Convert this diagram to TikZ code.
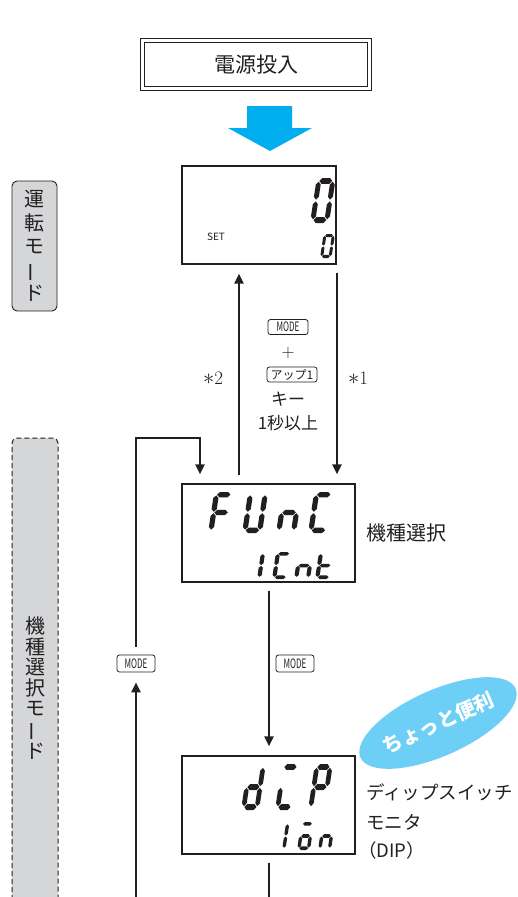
\documentclass[tikz,border=0pt]{standalone}
\usepackage{fontspec}
\usepackage{graphicx}
\newfontfamily\jp{Noto Sans CJK JP}
\usetikzlibrary{arrows.meta,shapes.geometric}
\definecolor{ink}{HTML}{231F20}
\definecolor{cyanA}{HTML}{00AEEF}
\definecolor{cyanB}{HTML}{6DCFF6}
\definecolor{labgray}{HTML}{D5D6D8}
\def\sgW{10}\def\sgH{20}\def\sgT{2.6}\def\sgG{0.35}
\newcommand\hsegm[1]{\fill ({\sgT/2+\sgG},{#1}) -- ({\sgT+\sgG},{#1+\sgT/2}) -- ({\sgW-\sgT-\sgG},{#1+\sgT/2}) -- ({\sgW-\sgT/2-\sgG},{#1}) -- ({\sgW-\sgT-\sgG},{#1-\sgT/2}) -- ({\sgT+\sgG},{#1-\sgT/2}) -- cycle;}
\newcommand\vsegm[3]{\fill ({#1},{#2+\sgG}) -- ({#1+\sgT/2},{#2+\sgG+\sgT/2}) -- ({#1+\sgT/2},{#3-\sgG-\sgT/2}) -- ({#1},{#3-\sgG}) -- ({#1-\sgT/2},{#3-\sgG-\sgT/2}) -- ({#1-\sgT/2},{#2+\sgG+\sgT/2}) -- cycle;}
\newcommand\SGa{\hsegm{\sgH-\sgT/2}}
\newcommand\SGg{\hsegm{\sgH/2}}
\newcommand\SGd{\hsegm{\sgT/2}}
\newcommand\SGf{\vsegm{\sgT/2}{\sgH/2}{\sgH-\sgT/2}}
\newcommand\SGe{\vsegm{\sgT/2}{\sgT/2}{\sgH/2}}
\newcommand\SGb{\vsegm{\sgW-\sgT/2}{\sgH/2}{\sgH-\sgT/2}}
\newcommand\SGc{\vsegm{\sgW-\sgT/2}{\sgT/2}{\sgH/2}}
\newcommand\segdigit[5]{%
  \begin{scope}[shift={(#1,#2)},xslant=0.15,xscale=#3,yscale=-#4]
    \foreach \sgname in {#5}{\csname SG\sgname\endcsname}
  \end{scope}}
\newcommand\bigast{\raisebox{-0.3pt}{\scalebox{1.3}{$\ast$}}}
\tikzset{
  disp/.style={draw=ink, line width=1.1pt, inner sep=0pt, fill=white},
  conn/.style={draw=ink, line width=2.3pt, -{Triangle[width=9pt,length=10pt]}},
  plainline/.style={draw=ink, line width=2.3pt},
  keycap/.style={draw=ink, line width=0.8pt, rounded corners=2.5pt, inner sep=0pt, minimum height=15pt, text=ink},
  jptext/.style={text=ink, inner sep=0pt},
}
\begin{document}
\begin{tikzpicture}[x=1pt,y=-1pt]
\useasboundingbox (0,0) rectangle (517,897);
% power-on box
\node[draw=ink, double=white, double distance=3.2pt, line width=0.9pt, minimum width=227, minimum height=48.5, inner sep=0pt, text=ink, font={\jp\fontsize{21}{21}\selectfont}] (pw) at (256,64.5) {電源投入};
% blue arrow
\fill[cyanA] (247,106) -- (292,106) -- (292,128) -- (312,128) -- (270,151) -- (228,128) -- (247,128) -- cycle;
% mode labels
\node[draw=ink, fill=labgray, rounded corners=5pt, line width=0.9pt, minimum width=45, minimum height=130, inner sep=0pt, align=center, text=ink, font={\jp\fontsize{20}{23.5}\selectfont}] (lab1) at (34.5,246) {運\\転\\モ\\\rotatebox[origin=c]{90}{ー}\\ド};
\fill[labgray, rounded corners=5pt] (12,900) -- (12,438) -- (58,438) -- (58,900) -- cycle;
\draw[ink, line width=1pt, dash pattern=on 5pt off 3pt, rounded corners=5pt] (12,900) -- (12,438) -- (58,438) -- (58,900);
\node[align=center, text=ink, inner sep=0pt, font={\jp\fontsize{20}{20.5}\selectfont}] (lab2) at (35,688) {機\\種\\選\\択\\モ\\\rotatebox[origin=c]{90}{ー}\\ド};
% displays
\node[disp, minimum width=154, minimum height=98] (d1) at (259,215) {};
\node[disp, minimum width=173, minimum height=98] (d2) at (268.5,533) {};
\node[disp, minimum width=173, minimum height=98] (d3) at (268.5,805) {};
\node[jptext, font={\jp\fontsize{10}{10}\selectfont}] (set) at (216,237) {SET};
\begin{scope}[ink]
\segdigit{310}{223}{1.9}{2.25}{a,b,c,d,e,f}
\segdigit{320}{258}{1.14}{1.2}{a,b,c,d,e,f}
\segdigit{208}{533}{2.0}{2.05}{a,e,f,g}
\segdigit{242}{533}{2.0}{2.05}{b,c,d,e,f}
\segdigit{276}{533}{2.0}{2.05}{c,e,g}
\segdigit{308}{533}{2.0}{2.05}{a,d,e,f}
\segdigit{257}{579}{1.6}{1.35}{e,f}
\segdigit{272}{579}{1.6}{1.35}{a,d,e,f}
\segdigit{294}{579}{1.6}{1.35}{c,e,g}
\segdigit{315}{579}{1.6}{1.35}{d,e,f,g}
\segdigit{241}{810}{1.8}{2.3}{b,c,d,e,g}
\segdigit{275}{810}{1.8}{2.3}{a,d,e}
\segdigit{308}{810}{1.8}{2.3}{a,b,e,f,g}
\segdigit{282}{850}{1.3}{1.4}{e,f}
\segdigit{297}{850}{1.3}{1.4}{a,c,d,e,g}
\segdigit{318}{850}{1.3}{1.4}{c,e,g}
\end{scope}
% key texts between display 1 and 2
\node[keycap, minimum width=40, font={\jp\fontsize{13}{13}\selectfont}] (k1) at (288,327) {\scalebox{0.62}[1]{MODE}};
\node[text=ink, inner sep=0pt, font={\fontsize{18}{18}\selectfont}] (plus) at (288,353) {+};
\node[keycap, minimum width=50, font={\jp\fontsize{12}{12}\selectfont}] (k2) at (292,374.5) {アップ1};
\node[jptext, font={\jp\fontsize{17}{17}\selectfont}] (kii) at (288,399) {キー};
\node[jptext, font={\jp\fontsize{17}{17}\selectfont}] (sec) at (288,423) {1秒以上};
\node[text=ink, inner sep=0pt, font={\fontsize{19}{19}\selectfont}] (s2) at (213,378) {\bigast 2};
\node[text=ink, inner sep=0pt, font={\fontsize{19}{19}\selectfont}] (s1) at (358,378) {\bigast 1};
% side texts
\node[jptext, anchor=west, font={\jp\fontsize{20}{20}\selectfont}] (t2) at (366,533) {機種選択};
\node[jptext, anchor=west, font={\jp\fontsize{18.5}{18.5}\selectfont}] (t3a) at (366,792) {ディップスイッチ};
\node[jptext, anchor=west, font={\jp\fontsize{18.5}{18.5}\selectfont}] (t3b) at (366,822) {モニタ};
\node[jptext, anchor=west, font={\jp\fontsize{18.5}{18.5}\selectfont}] (t3c) at (358,850) {（DIP）};
% tip ellipse
\node[ellipse, fill=cyanB, minimum width=158, minimum height=66, inner sep=0pt, rotate=24, text=white, font={\jp\bfseries\fontsize{20}{20}\selectfont}] (tip) at (438,723) {ちょっと便利};
% MODE keys on lower connectors
\node[keycap, minimum width=38, minimum height=17, font={\jp\fontsize{13}{13}\selectfont}] (mL) at (136,663.5) {\scalebox{0.62}[1]{MODE}};
\node[keycap, minimum width=38, minimum height=17, font={\jp\fontsize{13}{13}\selectfont}] (mM) at (295,663.5) {\scalebox{0.62}[1]{MODE}};
% coordinates
\coordinate (xL) at (239,0);
\coordinate (xR) at (337,0);
\coordinate (xM) at (269,0);
\coordinate (lpB) at (200,438);
\coordinate (bl) at (136,897);
\coordinate (bm) at (269,897);
% connectors
\draw[conn, shorten <=8pt, shorten >=9pt] (d2.north -| xL) -- (d1.south -| xL);
\draw[conn, shorten <=8pt, shorten >=9pt] (d1.south -| xR) -- (d2.north -| xR);
\draw[conn, shorten >=10pt] (bl) -- (mL.south);
\draw[conn, shorten <=8pt, shorten >=9pt] (mL.north) |- (lpB) -- (d2.north -| lpB);
\draw[conn, shorten <=8pt, shorten >=9pt] (d2.south -| xM) -- (d3.north -| xM);
\draw[plainline, shorten <=8pt] (d3.south -| xM) -- (bm);
\end{tikzpicture}
\end{document}
